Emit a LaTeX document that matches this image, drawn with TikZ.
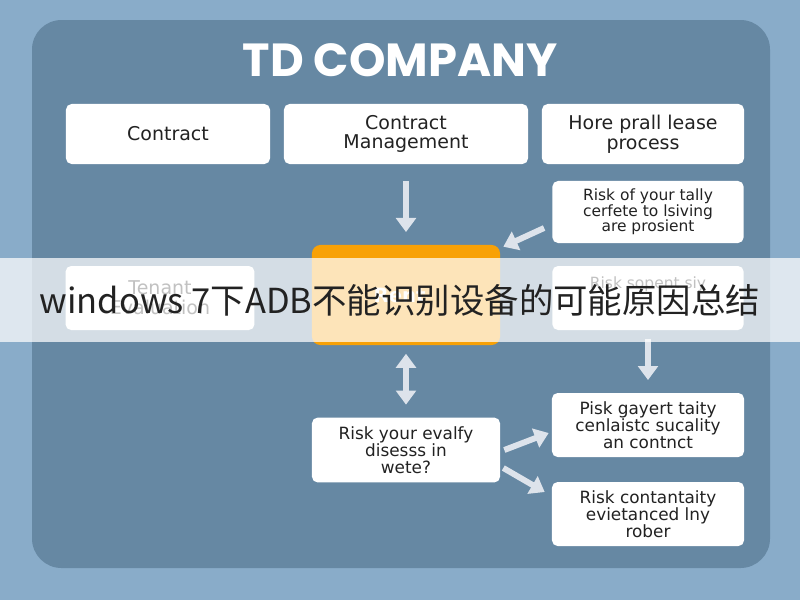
\documentclass[tikz,border=0pt]{standalone}
\usepackage{fontspec}
\setmainfont{DejaVu Sans}
\newfontfamily\titlefont{Poppins}
\newfontfamily\cjkfont{Noto Sans CJK SC}
\usetikzlibrary{arrows.meta}
\definecolor{bgblue}{HTML}{89ACC9}
\definecolor{panel}{HTML}{6688A3}
\definecolor{boxtext}{HTML}{222222}
\definecolor{arrowgrey}{HTML}{DDE3EB}
\definecolor{rentorange}{HTML}{F8A106}
\begin{document}
\begin{tikzpicture}[x=0.025cm, y=-0.025cm,
  box/.style={fill=white, rounded corners=4pt, text=boxtext, align=center, inner sep=2pt,
        font=\fontsize{13.5}{14}\selectfont},
  small/.style={box, font=\fontsize{11}{11}\selectfont},
  low/.style={box, font=\fontsize{12}{12}\selectfont},
  flow/.style={draw=arrowgrey, line width=4.2pt, -{Triangle[width=14pt,length=10pt]}},
  both/.style={flow, {Triangle[width=14pt,length=10pt]}-{Triangle[width=14pt,length=10pt]}},
]
  \useasboundingbox (0,0) rectangle (800,600);
  \fill[bgblue] (0,0) rectangle (800,600);
  \fill[panel, rounded corners=21pt] (32,20) rectangle (770,568);
  \node[text=white, font=\titlefont\fontsize{33}{38}\selectfont\bfseries] (title) at (400,60) {TD COMPANY};

  \node[box, minimum width=5.1cm, minimum height=1.5cm] (contract) at (168,134) {Contract};
  \node[box, minimum width=6.1cm, minimum height=1.5cm] (mgmt) at (406,134) {Contract\\Management};
  \node[box, minimum width=5.05cm, minimum height=1.5cm] (lease) at (643,134) {Hore prall lease\\process};
  \node[small, minimum width=4.78cm, minimum height=1.55cm] (tally) at (648,212) {Risk of your tally\\cerfete to lsiving\\are prosient};
  \node[box, minimum width=4.72cm, minimum height=1.6cm] (tenant) at (160,298) {Tenant\\Evaluation};
  \node[fill=rentorange, rounded corners=6pt, minimum width=4.7cm, minimum height=2.5cm,
        text=white, font=\fontsize{14}{17}\selectfont\bfseries] (rent) at (406,295) {Rent\\\phantom{x}};
  \node[small, minimum width=4.78cm, minimum height=1.6cm] (sovent) at (648,298) {Risk sopent siy\\\phantom{x}\\\phantom{x}};
  \node[low, minimum width=4.7cm, minimum height=1.62cm] (evalfy) at (406,450) {Risk your evalfy\\disesss in\\wete?};
  \node[low, minimum width=4.8cm, minimum height=1.6cm] (gayert) at (648,425) {Pisk gayert taity\\cenlaistc sucality\\an contnct};
  \node[low, minimum width=4.8cm, minimum height=1.6cm] (rober) at (648,514) {Risk contantaity\\evietanced lny\\rober};

  \draw[flow, shorten <=12pt, shorten >=9pt] (mgmt) -- (rent);
  \draw[flow] ([shift={(-8,16)}]tally.west) -- ([shift={(3,2)}]rent.north east);
  \draw[both, shorten <=6pt, shorten >=9pt] (rent) -- (evalfy);
  \draw[flow, shorten <=6pt, shorten >=9pt] (sovent) -- (gayert);
  \draw[flow] ([shift={(4,0)}]evalfy.east) -- ([shift={(-3,8)}]gayert.west);
  \draw[flow] ([shift={(3,18)}]evalfy.east) -- ([shift={(-7,-22)}]rober.west);

  \fill[white, opacity=0.72] (0,258) rectangle (800,342);
  \node[text=boxtext, font=\cjkfont\fontsize{24.5}{28}\selectfont] (banner) at (400,300) {windows 7下ADB不能识别设备的可能原因总结};
\end{tikzpicture}
\end{document}
